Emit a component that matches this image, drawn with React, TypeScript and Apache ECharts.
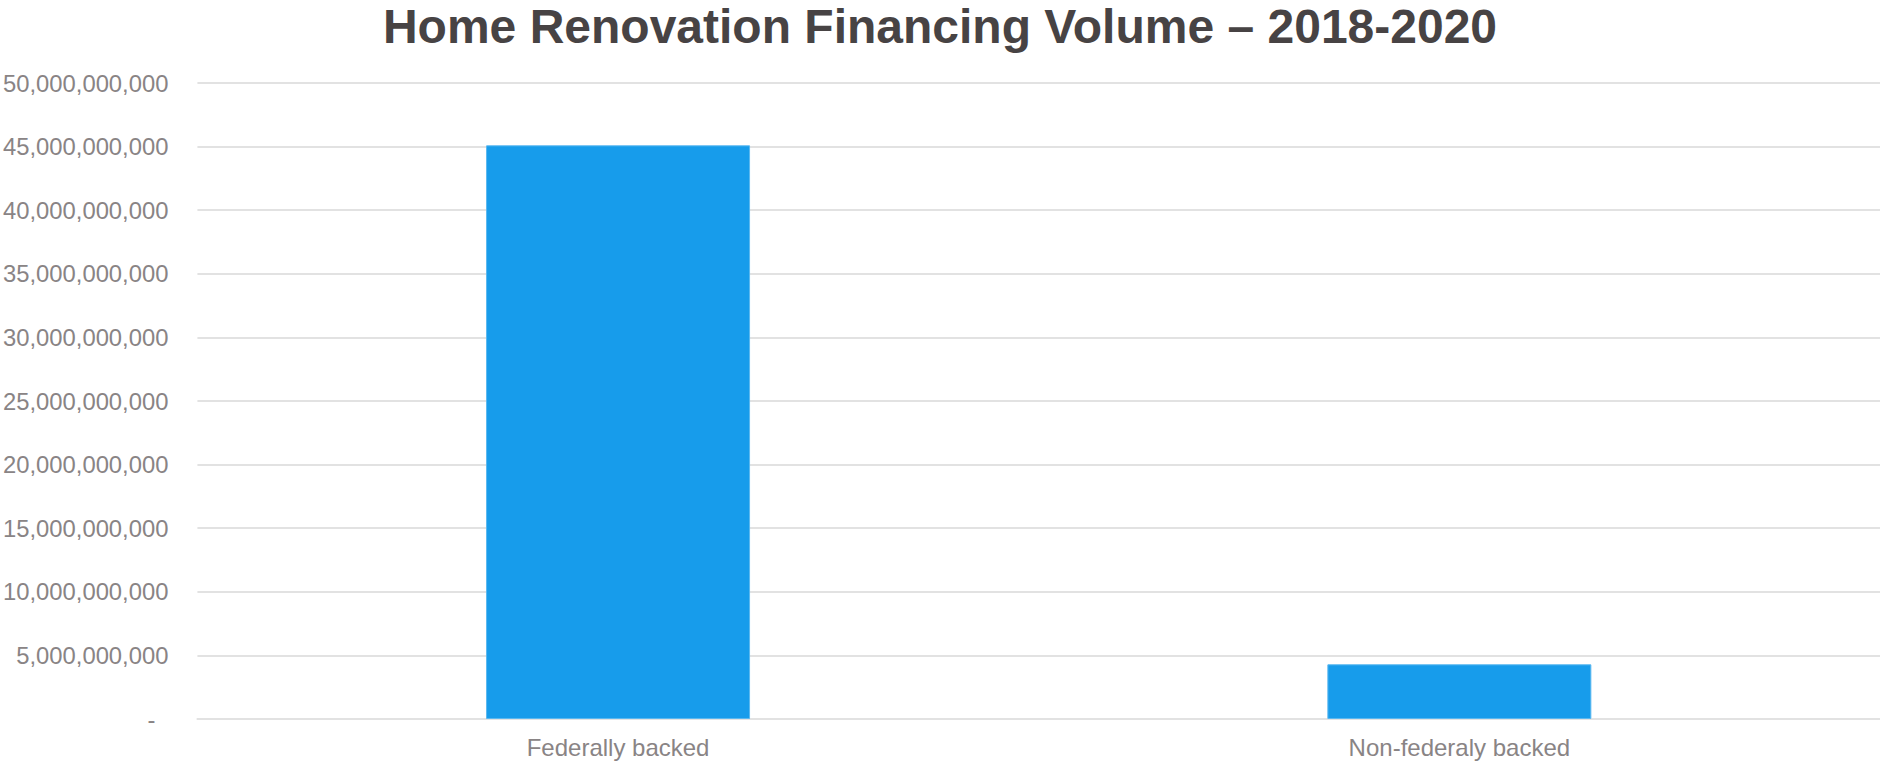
import React, { useEffect, useRef } from "react";
import * as echarts from "echarts";

const TITLE = "Home Renovation Financing Volume – 2018-2020";
const categories = ["Federally backed", "Non-federaly backed"];
const values = [45100000000, 4300000000];
const yMin = 0;
const yMax = 50000000000;
const yInterval = 5000000000;

function fmt(v: number): string {
  if (v === 0) return "{d|-}";
  return Math.round(v).toString().replace(/\B(?=(\d{3})+(?!\d))/g, ",");
}

export default function App() {
  const ref = useRef<HTMLDivElement>(null);
  useEffect(() => {
    if (!ref.current) return;
    const chart = echarts.init(ref.current, undefined, { renderer: "svg" });
    const labelColor = "#898485";
    chart.setOption({
      animation: false,
      title: {
        text: TITLE,
        left: "center",
        top: -3,
        textStyle: {
          fontFamily: "Liberation Sans, Arial, sans-serif",
          fontSize: 48,
          fontWeight: "bold",
          color: "#474344",
        },
      },
      grid: { left: 196, right: 0, top: 83, bottom: 42, containLabel: false },
      xAxis: {
        type: "category",
        data: categories,
        axisLine: { show: true, lineStyle: { color: "#e2e2e2", width: 2 } },
        axisTick: { show: false },
        axisLabel: {
          margin: 16,
          color: labelColor,
          fontSize: 24,
          fontFamily: "Liberation Sans, Arial, sans-serif",
        },
      },
      yAxis: {
        type: "value",
        min: yMin,
        max: yMax,
        interval: yInterval,
        axisLine: { show: false },
        axisTick: { show: false },
        splitLine: { lineStyle: { color: "#e2e2e2", width: 2 } },
        axisLabel: {
          margin: 29,
          color: labelColor,
          fontSize: 23.8,
          fontFamily: "Liberation Sans, Arial, sans-serif",
          formatter: fmt,
          rich: {
            d: {
              color: labelColor,
              fontSize: 23.8,
              fontFamily: "Liberation Sans, Arial, sans-serif",
              padding: [0, 13, 0, 0],
            },
          },
        },
      },
      series: [
        {
          type: "bar",
          data: values,
          barWidth: 264,
          itemStyle: { color: "#179CEB", borderColor: "#5bb8f0", borderWidth: 1 },
        },
      ],
    });
    return () => chart.dispose();
  }, []);
  return (
    <div
      ref={ref}
      style={{ position: "fixed", left: 0, top: 0, width: 1880, height: 761, background: "#fff" }}
    />
  );
}
